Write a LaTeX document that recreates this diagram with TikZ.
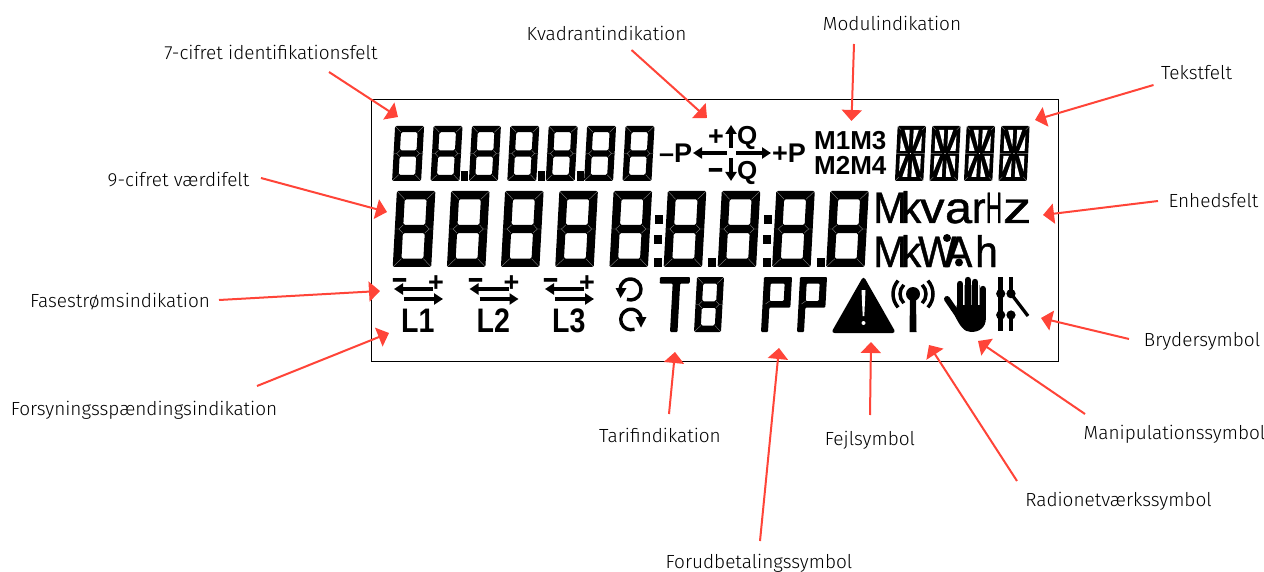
\documentclass[tikz,border=0pt]{standalone}
\usepackage{fontspec}
\setmainfont{Fira Sans}[UprightFont=* Light]
\newfontfamily\lcdfont{Liberation Sans}
\newfontfamily\lcdheavy[FakeBold=1]{Liberation Sans}
\usetikzlibrary{arrows.meta,positioning,calc}
\definecolor{calloutred}{HTML}{FF4438}
\newcommand{\pxfont}[1]{\fontsize{#1}{#1}\selectfont}
% x, y of top left, width, height, bar, slant
\newcommand{\lcddigit}[6]{%
  \begin{scope}[shift={(#1,#2+#4/2)},xslant=#6]
    \fill[black,even odd rule,rounded corners=1.5pt] (0,-#4/2) rectangle (#3,#4/2)
      (#5,-#4/2+#5) rectangle (#3-#5,-#5/2) (#5,#5/2) rectangle (#3-#5,#4/2-#5);
    \draw[lcdgap] (0.5,-#4/2+0.5) -- (#5,-#4/2+#5) (#3-0.5,-#4/2+0.5) -- (#3-#5,-#4/2+#5)
      (0.5,#4/2-0.5) -- (#5,#4/2-#5) (#3-0.5,#4/2-0.5) -- (#3-#5,#4/2-#5)
      (-1,0) -- (#5/2,0) -- (#5,-#5/2) (#5/2,0) -- (#5,#5/2)
      (#3+1,0) -- (#3-#5/2,0) -- (#3-#5,-#5/2) (#3-#5/2,0) -- (#3-#5,#5/2);
  \end{scope}}
% x, y of centre
\newcommand{\lcdalpha}[2]{%
  \begin{scope}[shift={(#1,#2)},xslant=0.05]
    \fill[black,rounded corners=1.5pt] (-14.2,-27.5) rectangle (14.2,27.5);
    \foreach \sx in {1,-1} \foreach \sy in {1,-1} {
      \begin{scope}[xscale=\sx,yscale=\sy]
        \fill[white] (10.5,2.5) -- (10.5,18) -- (5,2.5) -- cycle;
        \fill[white] (2,23.5) -- (7,23.5) -- (2,7) -- cycle;
        \draw[lcdgap] (14.2,27.5) -- (10.5,23.5) (14.2,0) -- (3,0);
      \end{scope}
    }
    \fill[white] (0,0) circle[radius=0.7pt];
  \end{scope}}
% x of left end at the foot, y of top, width
\newcommand{\lcdprepay}[3]{%
  \begin{scope}[shift={(#1,#2+55)},xslant=0.055]
    \fill[black,even odd rule,rounded corners=1pt] (0,0) -- (0,-55) -- (#3,-55) -- (#3,-24.5) -- (7,-24.5) -- (7,0) -- cycle
      (7,-48.5) rectangle (#3-7,-31);
    \draw[lcdgap] (7,-31) -- (3,-28);
  \end{scope}}
% x of left end, text, suffix of names
\newcommand{\lcdphase}[3]{%
  \coordinate (leftEnd#3) at (#1+39,289);
  \coordinate (leftTip#3) at (#1,289);
  \coordinate (rightEnd#3) at (#1+10,299);
  \coordinate (rightTip#3) at (#1+49,299);
  \draw[lcdarrow] (leftEnd#3) -- (leftTip#3);
  \draw[lcdarrow] (rightEnd#3) -- (rightTip#3);
  \node[lcdsign] (minus#3) at (#1+6.5,290.4) {\scalebox{1}[1.4]{–}};
  \node[lcdsign] (plus#3) at (#1+42,291) {+};
  \node[lcdtext,anchor=base west] (phase#3) at (#1+7,332) {\pxfont{34}\bfseries\scalebox{0.84}[1]{#2}};}
\begin{document}
\begin{tikzpicture}[x=1pt,y=-1pt,
    lbl/.style={font=\pxfont{19}, inner sep=0pt},
    callout/.style={-{Triangle[length=11pt,width=20pt]}, draw=calloutred, line width=2pt},
    lcdgap/.style={draw=black!45, line width=0.35pt},
    lcdarrow/.style={-{Triangle[length=9pt,width=11pt]}, line width=3.5pt},
    lcdtext/.style={inner sep=0pt, font=\lcdfont},
    lcdsign/.style={inner sep=0pt, font=\lcdfont\bfseries\pxfont{27}, anchor=base}
]
    \useasboundingbox (0,0) rectangle (1264,572);
    \fill[white] (0,0) rectangle (1264,572);
    \draw[black, line width=1pt] (371.5,100) rectangle (1058,361);

    % 7 digit field
    \foreach \x in {393.6,432,470.4,508.8,547.2,585.6,624} {
        \lcddigit{\x}{126}{29}{55}{6.2}{0.055}
    }
    \foreach \x in {461,538,577}
        \fill[black] (\x,171) rectangle (\x+7,181);

    % 9 digit field
    \foreach \x in {394.8,449,503,557.3,611.5,665.7,719.7,774.2,828.2} {
        \lcddigit{\x}{191}{38.5}{76}{8.3}{0.055}
    }
    \foreach \x in {654,708,763,817}
        \fill[black] (\x,258) rectangle (\x+8,267);
    \foreach \x in {654,763} {
        \fill[black] (\x+0.8,215) rectangle (\x+8.8,224);
        \fill[black] (\x+0.4,235) rectangle (\x+8.4,244);
    }

    % Quadrants
    \node[lcdtext, anchor=base west] (minusP) at (659,163) {\pxfont{27}\bfseries –P};
    \node[lcdtext, anchor=base west] (plusP) at (772,163) {\pxfont{27}\bfseries +P};
    \node[lcdtext, anchor=base west] (upperQ) at (737,145) {\pxfont{26}\bfseries Q};
    \node[lcdtext, anchor=base west] (lowerQ) at (737,180) {\pxfont{26}\bfseries Q};
    \node[lcdsign] (upperSign) at (716,146) {+};
    \node[lcdsign] (lowerSign) at (716,181) {\scalebox{1}[1.4]{–}};
    \coordinate (axisLeft) at (727,153);
    \coordinate (axisLeftTip) at (693,153);
    \coordinate (axisRight) at (736,153);
    \coordinate (axisRightTip) at (771,153);
    \coordinate (axisUp) at (731,148);
    \coordinate (axisUpTip) at (731,125);
    \coordinate (axisDown) at (731,158);
    \coordinate (axisDownTip) at (731,181);
    \draw[lcdarrow] (axisLeft) -- (axisLeftTip);
    \draw[lcdarrow] (axisRight) -- (axisRightTip);
    \draw[lcdarrow] (axisUp) -- (axisUpTip);
    \draw[lcdarrow] (axisDown) -- (axisDownTip);

    % Modules
    \node[lcdtext, anchor=base west] (modUpper) at (814,150) {\pxfont{26}\bfseries M1M3};
    \node[lcdtext, anchor=base west] (modLower) at (814,175) {\pxfont{26}\bfseries M2M4};

    % Text field
    \foreach \x in {910.5,945,979.5,1014} {
        \lcdalpha{\x}{153.5}
    }

    % Units
    \node[inner sep=0pt, anchor=base west] (unitUpper) at (873,223) {\lcdheavy\pxfont{44}\scalebox{0.92}[1]{M\kern-6.5pt k\kern-1pt \scalebox{1.2}[1]{v}\kern0.5pt\scalebox{1.2}[1]{a}\kern0pt r\kern0.5pt\scalebox{0.55}[1]{H}\kern1pt\scalebox{1.4}[1]{z}}};
    \node[inner sep=0pt, anchor=base west] (unitLower) at (873,267) {\lcdheavy\pxfont{44}\scalebox{0.92}[1]{M\kern-6.5pt k\kern-3.3pt W\kern-12pt A\kern3.3pt h}};
    \fill[black] (947,238) circle[radius=4pt];
    \fill[black] (959,262.5) circle[radius=4pt];

    % Phases
    \lcdphase{394}{L1}{A}
    \lcdphase{469.5}{L2}{B}
    \lcdphase{545}{L3}{C}

    % Rotation
    \draw[line width=3.4pt] (630.5,289.5) ++(-110:10.5pt) arc[start angle=-110, end angle=178, radius=10.5pt];
    \fill[black] (615.5,288) -- (626.5,288) -- (620.5,298) -- cycle;
    \draw[line width=3.4pt] (631,319.5) ++(-70:10.3pt) arc[start angle=-70, end angle=-352, radius=10.3pt];
    \fill[black] (635.5,317) -- (646.5,317) -- (641,327.5) -- cycle;

    % Tariff
    \begin{scope}[shift={(670,332)},xslant=0.055]
        \fill[black,rounded corners=1pt] (0,0) -- (0,-48.5) -- (-13,-48.5) -- (-13,-55) -- (17,-55) -- (17,-48.5) -- (7.5,-48.5) -- (7.5,0) -- cycle;
    \end{scope}
    \lcddigit{695.5}{277}{27}{55}{6.5}{0.055}

    % Prepayment
    \lcdprepay{761}{277}{28}
    \lcdprepay{797}{277}{27}

    % Fault
    \fill[black,rounded corners=3.5pt] (863.5,276) -- (896,333) -- (831,333) -- cycle;
    \fill[white] (861.5,290) -- (865.5,290) -- (864.3,316) -- (862.7,316) -- cycle;
    \fill[white] (863.5,323) circle[radius=2pt];

    % Radio
    \fill[black] (913,294) circle[radius=7pt];
    \fill[black] (910,298) -- (916,298) -- (916.5,332) -- (909.5,332) -- cycle;
    \draw[black, line width=3.5pt] (913,294) ++(135:13pt) arc[start angle=135, end angle=225, radius=13pt];
    \draw[black, line width=3.5pt] (913,294) ++(-45:13pt) arc[start angle=-45, end angle=45, radius=13pt];
    \draw[black, line width=3.5pt] (913,294) ++(138:20pt) arc[start angle=138, end angle=222, radius=20pt];
    \draw[black, line width=3.5pt] (913,294) ++(-42:20pt) arc[start angle=-42, end angle=42, radius=20pt];

    % Hand
    \foreach \x/\y in {960/284,967.7/280,975/282,982.7/289}
        \draw[black, line width=6.4pt, line cap=round] (\x,\y) -- (\x,312);
    \foreach \x in {963.8,971.3,978.9}
        \draw[black!40, line width=0.6pt] (\x,285) -- (\x,305);
    \fill[black] (956.8,305) -- (985.9,305) -- (985.9,318) .. controls (985.9,328) and (979,332) .. (971,332) .. controls (964,332) and (960,326) .. (955,316) -- cycle;
    \draw[black, line width=6pt, line cap=round] (947,299) -- (960,318);

    % Breaker
    \draw[black, line width=4.5pt] (1000.7,277) -- (1000.7,331);
    \draw[black, line width=4.5pt] (1011,277) -- (1011,293.7);
    \draw[black, line width=4.5pt] (1011,315) -- (1011,331);
    \fill[black] (1000.7,293.7) circle[radius=4.6pt];
    \fill[black] (1000.7,315) circle[radius=4.6pt];
    \fill[black] (1011,293.7) circle[radius=4.6pt];
    \fill[black] (1011,315) circle[radius=4.6pt];
    \draw[black, line width=3.3pt] (1011,293.7) -- (1028,316);

    % Labels
    \node[lbl] (lblIdent) at (271,52) {7-cifret identifikationsfelt};
    \node[lbl] (lblKvadrant) at (606.5,33.5) {Kvadrantindikation};
    \node[lbl] (lblModul) at (892,23.5) {Modulindikation};
    \node[lbl] (lblTekst) at (1196.5,72.5) {Tekstfelt};
    \node[lbl] (lblValue) at (178.5,179.5) {9-cifret værdifelt};
    \node[lbl] (lblEnhed) at (1213.5,200.5) {Enhedsfelt};
    \node[lbl] (lblFase) at (120,302) {Fasestrømsindikation};
    \node[lbl] (lblBryder) at (1202,341) {Brydersymbol};
    \node[lbl] (lblForsyning) at (144,410) {Forsyningsspændingsindikation};
    \node[lbl] (lblTarif) at (660,435.5) {Tarifindikation};
    \node[lbl] (lblFejl) at (870,440) {Fejlsymbol};
    \node[lbl] (lblManip) at (1174.5,434) {Manipulationssymbol};
    \node[lbl] (lblRadio) at (1118.5,501) {Radionetværkssymbol};
    \node[lbl] (lblForud) at (759,563) {Forudbetalingssymbol};

    % Callouts
    \coordinate (tipIdent) at (398,117);
    \coordinate (tipKvadrant) at (707,118);
    \coordinate (tipModul) at (851.5,121);
    \coordinate (tipTekst) at (1035,120);
    \coordinate (tipValue) at (387,212);
    \coordinate (tipEnhed) at (1043,215);
    \coordinate (tipFase) at (380,291);
    \coordinate (tipBryder) at (1041,318);
    \coordinate (tipForsyning) at (389,333);
    \coordinate (tipTarif) at (675,352);
    \coordinate (tipFejl) at (871,342);
    \coordinate (tipManip) at (978,341);
    \coordinate (tipRadio) at (929,345);
    \coordinate (tipForud) at (779,348);

    \draw[callout] ([shift={(58,20)}]lblIdent.center) -- (tipIdent);
    \draw[callout] ([shift={(25,16.5)}]lblKvadrant.center) -- (tipKvadrant);
    \draw[callout] ([shift={(-38,20.5)}]lblModul.center) -- (tipModul);
    \draw[callout] ([shift={(-43,12.5)}]lblTekst.center) -- (tipTekst);
    \draw[callout] ([shift={(82.5,-1.5)}]lblValue.center) -- (tipValue);
    \draw[callout] ([shift={(-55.5,0.5)}]lblEnhed.center) -- (tipEnhed);
    \draw[callout] ([shift={(99,-2)}]lblFase.center) -- (tipFase);
    \draw[callout] ([shift={(-73,-2)}]lblBryder.center) -- (tipBryder);
    \draw[callout] ([shift={(113,-24)}]lblForsyning.center) -- (tipForsyning);
    \draw[callout] ([shift={(9,-21.5)}]lblTarif.center) -- (tipTarif);
    \draw[callout] ([shift={(0,-25)}]lblFejl.center) -- (tipFejl);
    \draw[callout] ([shift={(-89.5,-20)}]lblManip.center) -- (tipManip);
    \draw[callout] ([shift={(-101.5,-20)}]lblRadio.center) -- (tipRadio);
    \draw[callout] ([shift={(1,-22)}]lblForud.center) -- (tipForud);
\end{tikzpicture}
\end{document}
